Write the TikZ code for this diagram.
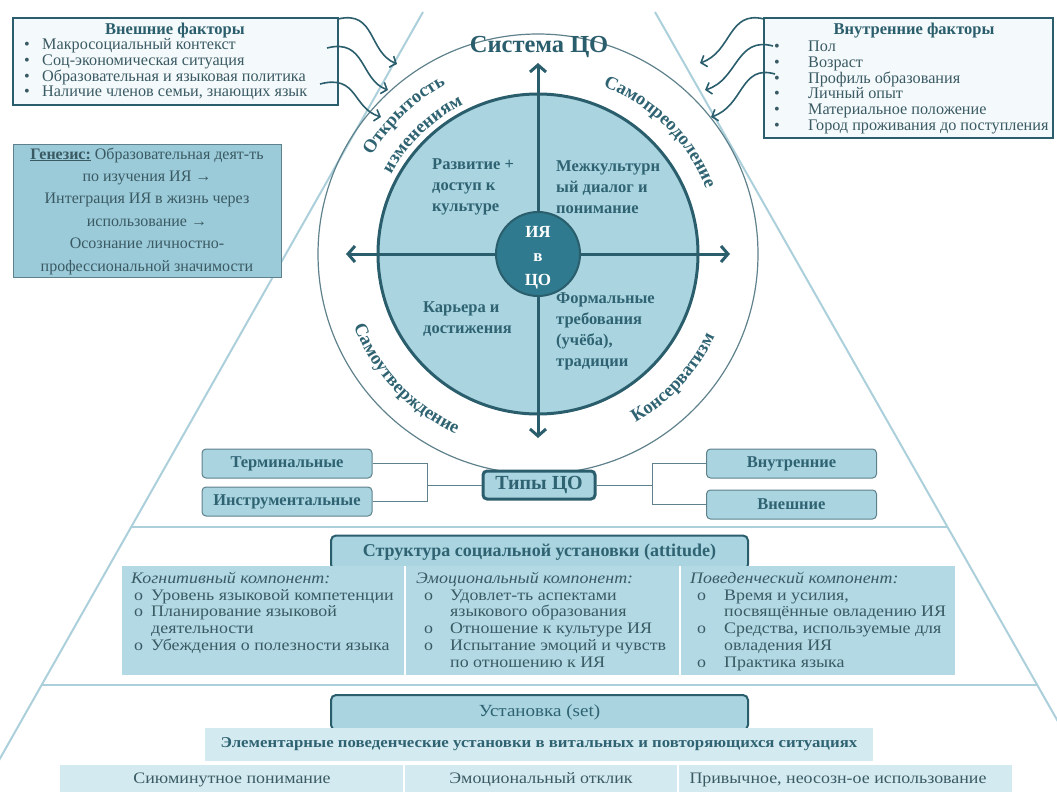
\documentclass[tikz,border=0pt]{standalone}
\usepackage{fontspec}
\setmainfont{Liberation Serif}
\newfontfamily\wideserif[FakeStretch=1.12]{Liberation Serif}
\usetikzlibrary{arrows.meta,decorations.text,positioning}

\definecolor{tealdark}{HTML}{2B5E6C}
\definecolor{tealtext}{HTML}{2F6372}
\definecolor{bodytext}{HTML}{3A5A63}
\definecolor{ringline}{HTML}{5F818B}
\definecolor{lightfill}{HTML}{A9D4E0}
\definecolor{genfill}{HTML}{9BCAD8}
\definecolor{panelfill}{HTML}{B2D9E4}
\definecolor{palefill}{HTML}{D4EAF1}
\definecolor{pyrline}{HTML}{ACD0DB}
\definecolor{corefill}{HTML}{2F7A8E}
\definecolor{boxbg}{HTML}{F4F9FB}

\newcommand{\bul}[1][18pt]{\makebox[#1][l]{\textbullet}}
\newcommand{\cir}[1][17pt]{\makebox[#1][l]{o}}

\begin{document}
\begin{tikzpicture}[x=1pt, y=-1pt,
    pyr/.style={draw=pyrline, line width=2pt},
    factorbox/.style={draw=tealdark, line width=1.8pt, fill=boxbg},
    boxtitle/.style={text=tealdark, font=\bfseries\fontsize{16.5}{16.5}\selectfont},
    factlist/.style={anchor=west, align=left, inner sep=0pt, text=bodytext, font=\fontsize{16.2}{15.7}\selectfont},
    wave/.style={tealdark, line width=1.6pt, -{Straight Barb[length=5pt,width=12pt]}},
    axis/.style={tealdark, line width=3pt, {Straight Barb[length=7pt,width=16pt]}-{Straight Barb[length=7pt,width=16pt]}},
    core/.style={circle, draw=tealdark, line width=2pt, fill=corefill, minimum size=84pt, inner sep=0pt},
    coretext/.style={align=center, inner sep=0pt, text=white, font=\bfseries\fontsize{17}{24}\selectfont},
    quad/.style={anchor=west, align=left, inner sep=0pt, text=tealtext, font=\bfseries\fontsize{16.5}{21}\selectfont},
    ring/.style={decorate, decoration={text along path, text align=center, text color=tealtext}},
    genbox/.style={draw=ringline, line width=1pt, fill=genfill, minimum width=268pt, minimum height=132pt, align=center, text=bodytext, font=\fontsize{16}{22.4}\selectfont},
    typebox/.style={draw=ringline, line width=1pt, fill=lightfill, rounded corners=4pt, minimum width=170pt, minimum height=29pt, text=tealtext, font=\bfseries\fontsize{16.5}{16.5}\selectfont},
    link/.style={draw=ringline, line width=1pt},
    headbox/.style={draw=tealdark, line width=2pt, fill=lightfill, rounded corners=5pt, minimum width=417pt, text=tealtext},
    panel/.style={fill=panelfill, inner sep=0pt},
    palebox/.style={fill=palefill, inner sep=0pt},
    sep/.style={white, line width=2pt},
    coltext/.style={anchor=north west, align=left, inner sep=0pt, text=bodytext, font=\wideserif\fontsize{16}{16.7}\selectfont},
    settext/.style={text=bodytext, font=\wideserif\fontsize{16}{16}\selectfont}
  ]

    % Fix the page to the size of the reference
    \useasboundingbox (0,0) rectangle (1057,792);
    \clip (0,0) rectangle (1057,792);

    % Pyramid sides and its two floor lines
    \draw[pyr] (423,12) -- (-19,792);
    \draw[pyr] (655,12) -- (1098,792);
    \draw[pyr] (131,527) -- (947,527);
    \draw[pyr] (41,685) -- (1037,685);

    % Centre of the value system
    \coordinate (O) at (538,254);

    % Outer ring and the inner disc
    \draw[ringline, line width=1.2pt] (O) circle[radius=220];
    \draw[tealdark, line width=3pt, fill=lightfill] (O) circle[radius=160];

    % Ends of the two axes
    \coordinate (up) at (538,63);
    \coordinate (down) at (538,438);
    \coordinate (lft) at (346,254);
    \coordinate (rgt) at (730,254);
    \draw[axis] (down) -- (up);
    \draw[axis] (lft) -- (rgt);

    % Core of the system
    \node[core] (core) at (O) {};
    \node[coretext] (corelabel) at ([yshift=-4pt]core.center) {ИЯ\\в\\ЦО};

    % Title of the system
    \node[text=tealdark, font=\bfseries\fontsize{24.5}{24.5}\selectfont] (sys) at (539,47) {Система ЦО};

    % Texts of the four quadrants
    \node[quad] (dev) at (432,187) {Развитие +\\доступ к\\культуре};
    \node[quad] (dial) at (556,187) {Межкультурн\\ый диалог и\\понимание};
    \node[quad] (car) at (423,319) {Карьера и\\достижения};
    \node[quad] (form) at (556,331) {Формальные\\требования\\(учёба),\\традиции};

    % Labels bent along the ring
    \path[ring, decoration={text={|\bfseries\fontsize{18.5}{18.5}\selectfont|Открытость}}]
      ([shift={(-162:193)}]O) arc[start angle=-162, end angle=-106, radius=193];
    \path[ring, decoration={text={|\bfseries\fontsize{18.5}{18.5}\selectfont|изменениям}}]
      ([shift={(-162:167)}]O) arc[start angle=-162, end angle=-106, radius=167];
    \path[ring, decoration={text={|\bfseries\fontsize{18.5}{18.5}\selectfont|Самопреодоление}}]
      ([shift={(-78:180)}]O) arc[start angle=-78, end angle=-12, radius=180];
    \path[ring, decoration={text={|\bfseries\fontsize{18.5}{18.5}\selectfont|Самоутверждение}}]
      ([shift={(-190:198)}]O) arc[start angle=-190, end angle=-257, radius=198];
    \path[ring, decoration={text={|\bfseries\fontsize{18.5}{18.5}\selectfont|Консерватизм}}]
      ([shift={(-288:195)}]O) arc[start angle=-288, end angle=-347, radius=195];

    % External factors
    \node[factorbox, minimum width=325pt, minimum height=87pt] (ext) at (175.5,61.5) {};
    \node[boxtitle] (exttitle) at (175,31) {Внешние факторы};
    \node[factlist] (extlist) at (24,69.5) {\bul Макросоциальный контекст\\
      \bul Соц-экономическая ситуация\\
      \bul Образовательная и языковая политика\\
      \bul Наличие членов семьи, знающих язык};

    % Internal factors
    \node[factorbox, minimum width=289pt, minimum height=120pt] (int) at (908.5,78) {};
    \node[boxtitle] (inttitle) at (914,31) {Внутренние факторы};
    \node[factlist] (intlist) at (774,87.5) {\bul[34pt]Пол\\
      \bul[34pt]Возраст\\
      \bul[34pt]Профиль  образования\\
      \bul[34pt]Личный опыт\\
      \bul[34pt]Материальное положение\\
      \bul[34pt]Город проживания  до поступления};

    % Wavy arrows of the external factors
    \coordinate (e1) at (338,19);
    \coordinate (e2) at (327,48);
    \coordinate (e3) at (320,84);
    \coordinate (t1) at (397,64);
    \coordinate (t2) at (388,90);
    \coordinate (t3) at (381,117);
    \draw[wave] (e1) .. controls (376,10) and (368,52) .. (t1);
    \draw[wave] (e2) .. controls (366,38) and (360,80) .. (t2);
    \draw[wave] (e3) .. controls (358,74) and (352,108) .. (t3);

    % Wavy arrows of the internal factors
    \coordinate (i1) at (764,19);
    \coordinate (i2) at (773,46);
    \coordinate (i3) at (775,74);
    \coordinate (s1) at (700,63);
    \coordinate (s2) at (705,90);
    \coordinate (s3) at (711,117);
    \draw[wave] (i1) .. controls (728,10) and (732,52) .. (s1);
    \draw[wave] (i2) .. controls (736,36) and (738,80) .. (s2);
    \draw[wave] (i3) .. controls (740,64) and (744,106) .. (s3);

    % Genesis
    \node[genbox] (gen) at (147,211) {\underline{\textbf{Генезис:}} Образовательная деят-ть\\
      по изучения ИЯ →\\
      Интеграция ИЯ в жизнь через\\
      использование →\\
      Осознание личностно-\\
      профессиональной  значимости};

    % Types of value orientations
    \node[typebox] (term) at (287,463.5) {Терминальные};
    \node[typebox] (instr) at (287,501.5) {Инструментальные};
    \node[typebox, minimum width=112pt, minimum height=28pt, draw=tealdark, line width=3pt, font=\bfseries\fontsize{20}{20}\selectfont] (types) at (539,485) {Типы ЦО};
    \node[typebox] (inward) at (791.5,463.5) {Внутренние};
    \node[typebox] (outward) at (791.5,504.5) {Внешние};
    \coordinate (jl) at (427,485);
    \coordinate (jr) at (652,485);
    \draw[link] (term.east) -| (jl);
    \draw[link] (instr.east) -| (jl);
    \draw[link] (jl) -- (types.west);
    \draw[link] (types.east) -- (jr);
    \draw[link] (jr) |- (inward.west);
    \draw[link] (jr) |- (outward.west);

    % Structure of the attitude
    \node[headbox, minimum height=34pt, font=\bfseries\fontsize{18}{18}\selectfont] (att) at (539.5,552.5) {Структура социальной установки (attitude)};
    \node[panel, minimum width=833pt, minimum height=109pt] (attpanel) at (538.5,620.5) {};
    \draw[sep] (405,566) -- (405,675);
    \draw[sep] (680,566) -- (680,675);
    \node[coltext] (cog) at (131,572) {\textit{Когнитивный компонент:}\\
      \hspace*{3pt}\cir Уровень языковой компетенции\\
      \hspace*{3pt}\cir Планирование языковой\\
      \hspace*{20pt}деятельности\\
      \hspace*{3pt}\cir Убеждения о полезности языка};
    \node[coltext] (emot) at (416,572) {\textit{Эмоциональный компонент:}\\
      \hspace*{8pt}\cir[26pt]Удовлет-ть аспектами\\
      \hspace*{34pt}языкового образования\\
      \hspace*{8pt}\cir[26pt]Отношение к культуре  ИЯ\\
      \hspace*{8pt}\cir[26pt]Испытание эмоций и чувств\\
      \hspace*{34pt}по отношению к ИЯ};
    \node[coltext] (behav) at (690,572) {\textit{Поведенческий компонент:}\\
      \hspace*{7pt}\cir[27pt]Время и усилия,\\
      \hspace*{34pt}посвящённые овладению ИЯ\\
      \hspace*{7pt}\cir[27pt]Средства, используемые для\\
      \hspace*{34pt}овладения ИЯ\\
      \hspace*{7pt}\cir[27pt]Практика языка};

    % The set
    \node[headbox, minimum height=35pt, font=\wideserif\fontsize{17}{17}\selectfont] (set) at (539.5,712.5) {Установка (set)};
    \node[palebox, minimum width=668pt, minimum height=33pt, text=tealtext, font=\wideserif\bfseries\fontsize{15}{15}\selectfont] (elem) at (539,744.5) {Элементарные поведенческие установки  в витальных и повторяющихся ситуациях};
    \node[palebox, minimum width=952pt, minimum height=35pt] (setrow) at (536,782.5) {};
    \draw[sep] (404,765) -- (404,800);
    \draw[sep] (678,765) -- (678,800);
    \node[settext] (now) at (232,780) {Сиюминутное понимание};
    \node[settext] (emo) at (541,780) {Эмоциональный отклик};
    \node[settext] (habit) at (838,780) {Привычное, неосозн-ое использование};

\end{tikzpicture}
\end{document}
